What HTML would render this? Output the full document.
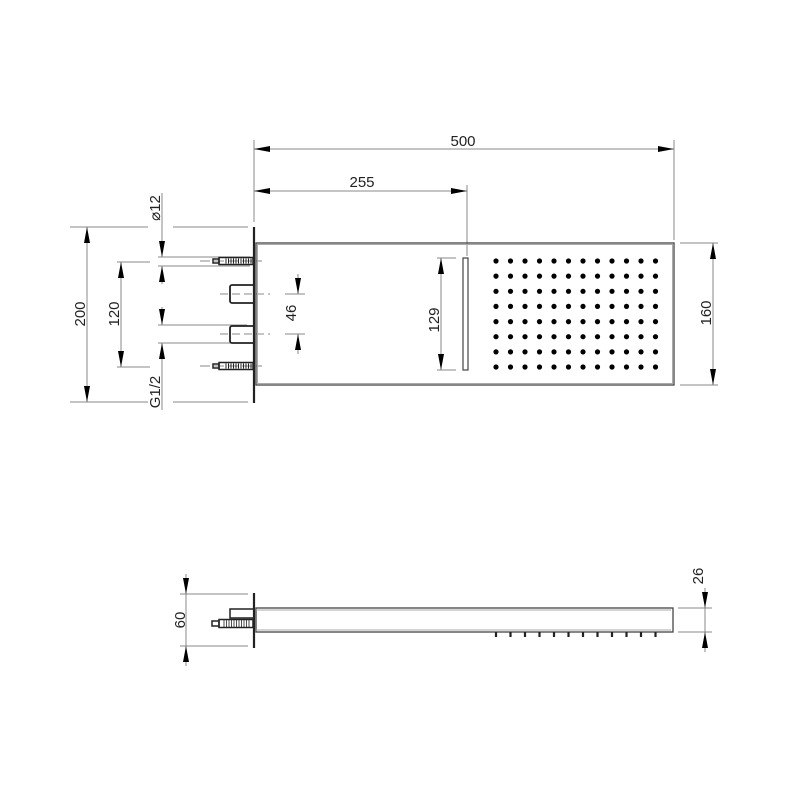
<!DOCTYPE html>
<html><head><meta charset="utf-8"><style>
html,body{margin:0;padding:0;background:#fff;}
svg{display:block;}
text{font-family:"Liberation Sans",sans-serif;font-size:15px;fill:#222;}
</style></head><body>
<svg width="800" height="800" viewBox="0 0 800 800" xmlns="http://www.w3.org/2000/svg">
<defs>
<marker id="a" viewBox="0 0 16 6" refX="16" refY="3" markerWidth="16" markerHeight="6" markerUnits="userSpaceOnUse" orient="auto-start-reverse"><path d="M0,0 L16,3 L0,6z" fill="#000"/></marker>
</defs>
<g stroke="#888" stroke-width="1" fill="none">
<line x1="254" y1="140" x2="254" y2="222"/>
<line x1="674" y1="140" x2="674" y2="240"/>
<line x1="467" y1="185" x2="467" y2="256"/>
<line x1="254" y1="149" x2="674" y2="149" marker-end="url(#a)" marker-start="url(#a)"/>
<line x1="254" y1="191" x2="467" y2="191" marker-end="url(#a)" marker-start="url(#a)"/>
<line x1="70" y1="227" x2="148" y2="227"/><line x1="173" y1="227" x2="248" y2="227"/>
<line x1="70" y1="402" x2="148" y2="402"/><line x1="173" y1="402" x2="248" y2="402"/>
<line x1="87" y1="227" x2="87" y2="402" marker-end="url(#a)" marker-start="url(#a)"/>
<line x1="117" y1="262" x2="150" y2="262"/><line x1="117" y1="367" x2="150" y2="367"/>
<line x1="121" y1="262" x2="121" y2="367" marker-end="url(#a)" marker-start="url(#a)"/>
<line x1="162" y1="193" x2="162" y2="257" marker-end="url(#a)"/>
<line x1="162" y1="284" x2="162" y2="266" marker-end="url(#a)"/>
<line x1="158" y1="257" x2="250" y2="257"/><line x1="158" y1="266" x2="250" y2="266"/>
<line x1="162" y1="307" x2="162" y2="325" marker-end="url(#a)"/>
<line x1="162" y1="410" x2="162" y2="343" marker-end="url(#a)"/>
<line x1="158" y1="325" x2="247" y2="325"/><line x1="158" y1="343" x2="247" y2="343"/>
<line x1="285" y1="294" x2="305" y2="294"/><line x1="285" y1="334" x2="305" y2="334"/>
<line x1="298" y1="274" x2="298" y2="294" marker-end="url(#a)"/>
<line x1="298" y1="354" x2="298" y2="334" marker-end="url(#a)"/>
<line x1="220" y1="294" x2="270" y2="294" stroke-dasharray="8,4"/>
<line x1="220" y1="334" x2="270" y2="334" stroke-dasharray="8,4"/>
<line x1="200" y1="261" x2="262" y2="261" stroke-dasharray="10,4"/>
<line x1="200" y1="366" x2="262" y2="366" stroke-dasharray="10,4"/>
<line x1="437" y1="258" x2="456" y2="258"/><line x1="437" y1="370" x2="456" y2="370"/>
<line x1="441" y1="258" x2="441" y2="370" marker-end="url(#a)" marker-start="url(#a)"/>
<line x1="680" y1="243" x2="718" y2="243"/><line x1="680" y1="385" x2="718" y2="385"/>
<line x1="713" y1="243" x2="713" y2="385" marker-end="url(#a)" marker-start="url(#a)"/>
<line x1="180" y1="594" x2="248" y2="594"/><line x1="180" y1="646" x2="248" y2="646"/>
<line x1="186" y1="574" x2="186" y2="594" marker-end="url(#a)"/>
<line x1="186" y1="666" x2="186" y2="646" marker-end="url(#a)"/>
<line x1="186" y1="594" x2="186" y2="646"/>
<line x1="678" y1="608" x2="712" y2="608"/><line x1="678" y1="632" x2="712" y2="632"/>
<line x1="705" y1="588" x2="705" y2="608" marker-end="url(#a)"/>
<line x1="705" y1="652" x2="705" y2="632" marker-end="url(#a)"/>
<line x1="705" y1="608" x2="705" y2="632"/>
</g>
<g stroke="#222" fill="none">
<line x1="254" y1="227" x2="254" y2="403" stroke-width="2.2"/>
<rect x="256" y="243" width="418" height="142" stroke="#444" stroke-width="1.3"/>
<rect x="257.5" y="244.5" width="415" height="139" stroke="#aaa" stroke-width="1"/>
<rect x="463" y="258" width="5" height="112" stroke="#444" stroke-width="1.2"/>
<path d="M253,285 H232 a2,2 0 0 0 -2,2 V301 a2,2 0 0 0 2,2 H253" stroke-width="1.8"/>
<path d="M253,326 H232 a2,2 0 0 0 -2,2 V341 a2,2 0 0 0 2,2 H253" stroke-width="1.8"/>
<rect x="219" y="257.5" width="34" height="7" stroke-width="1.5"/>
<rect x="213" y="259" width="6" height="4" stroke-width="1.5"/>
<rect x="219" y="362.5" width="34" height="7" stroke-width="1.5"/>
<rect x="213" y="364" width="6" height="4" stroke-width="1.5"/>
<path d="M226,258.5v5M228.5,258.5v5M231,258.5v5M233.5,258.5v5M236,258.5v5M238.5,258.5v5M241,258.5v5M243.5,258.5v5M246,258.5v5M248.5,258.5v5M251,258.5v5" stroke-width="1"/>
<path d="M226,363.5v5M228.5,363.5v5M231,363.5v5M233.5,363.5v5M236,363.5v5M238.5,363.5v5M241,363.5v5M243.5,363.5v5M246,363.5v5M248.5,363.5v5M251,363.5v5" stroke-width="1"/>
</g>
<g fill="#000">
<g id="row">
<circle cx="496" cy="261" r="2.6"/><circle cx="510.5" cy="261" r="2.6"/><circle cx="525" cy="261" r="2.6"/><circle cx="539.5" cy="261" r="2.6"/><circle cx="554" cy="261" r="2.6"/><circle cx="568.5" cy="261" r="2.6"/><circle cx="583" cy="261" r="2.6"/><circle cx="597.5" cy="261" r="2.6"/><circle cx="612" cy="261" r="2.6"/><circle cx="626.5" cy="261" r="2.6"/><circle cx="641" cy="261" r="2.6"/><circle cx="655.5" cy="261" r="2.6"/>
</g>
<use href="#row" y="15.1"/><use href="#row" y="30.3"/><use href="#row" y="45.4"/><use href="#row" y="60.6"/><use href="#row" y="75.7"/><use href="#row" y="90.9"/><use href="#row" y="106"/>
</g>
<g stroke="#222" fill="none">
<line x1="254" y1="593" x2="254" y2="648" stroke-width="2.2"/>
<rect x="256" y="608" width="417" height="24" stroke="#444" stroke-width="1.3"/>
<line x1="256" y1="610" x2="671" y2="610" stroke="#aaa"/>
<line x1="256" y1="630" x2="671" y2="630" stroke="#aaa"/>
<path d="M253,618 H230 V609 H253" stroke-width="1.5"/>
<rect x="219" y="619.5" width="34" height="8" stroke-width="1.5"/>
<rect x="212" y="621" width="7" height="5" stroke-width="1.5"/>
<path d="M224,620v7M226.5,620v7M229,620v7M231.5,620v7M234,620v7M236.5,620v7M239,620v7M241.5,620v7M244,620v7M246.5,620v7M249,620v7" stroke-width="0.8"/>
<path d="M496,632v5M510.5,632v5M525,632v5M539.5,632v5M554,632v5M568.5,632v5M583,632v5M597.5,632v5M612,632v5M626.5,632v5M641,632v5M655.5,632v5" stroke-width="2.2"/>
</g>
<text x="463" y="146" text-anchor="middle">500</text>
<text x="362" y="187" text-anchor="middle">255</text>
<text transform="translate(85,314) rotate(-90)" text-anchor="middle">200</text>
<text transform="translate(119,314) rotate(-90)" text-anchor="middle">120</text>
<text transform="translate(160,208) rotate(-90)" text-anchor="middle">⌀12</text>
<text transform="translate(160,392) rotate(-90)" text-anchor="middle">G1/2</text>
<text transform="translate(296,313) rotate(-90)" text-anchor="middle">46</text>
<text transform="translate(439,320) rotate(-90)" text-anchor="middle">129</text>
<text transform="translate(711,313) rotate(-90)" text-anchor="middle">160</text>
<text transform="translate(185,620) rotate(-90)" text-anchor="middle">60</text>
<text transform="translate(703,576) rotate(-90)" text-anchor="middle">26</text>
</svg>
</body></html>
